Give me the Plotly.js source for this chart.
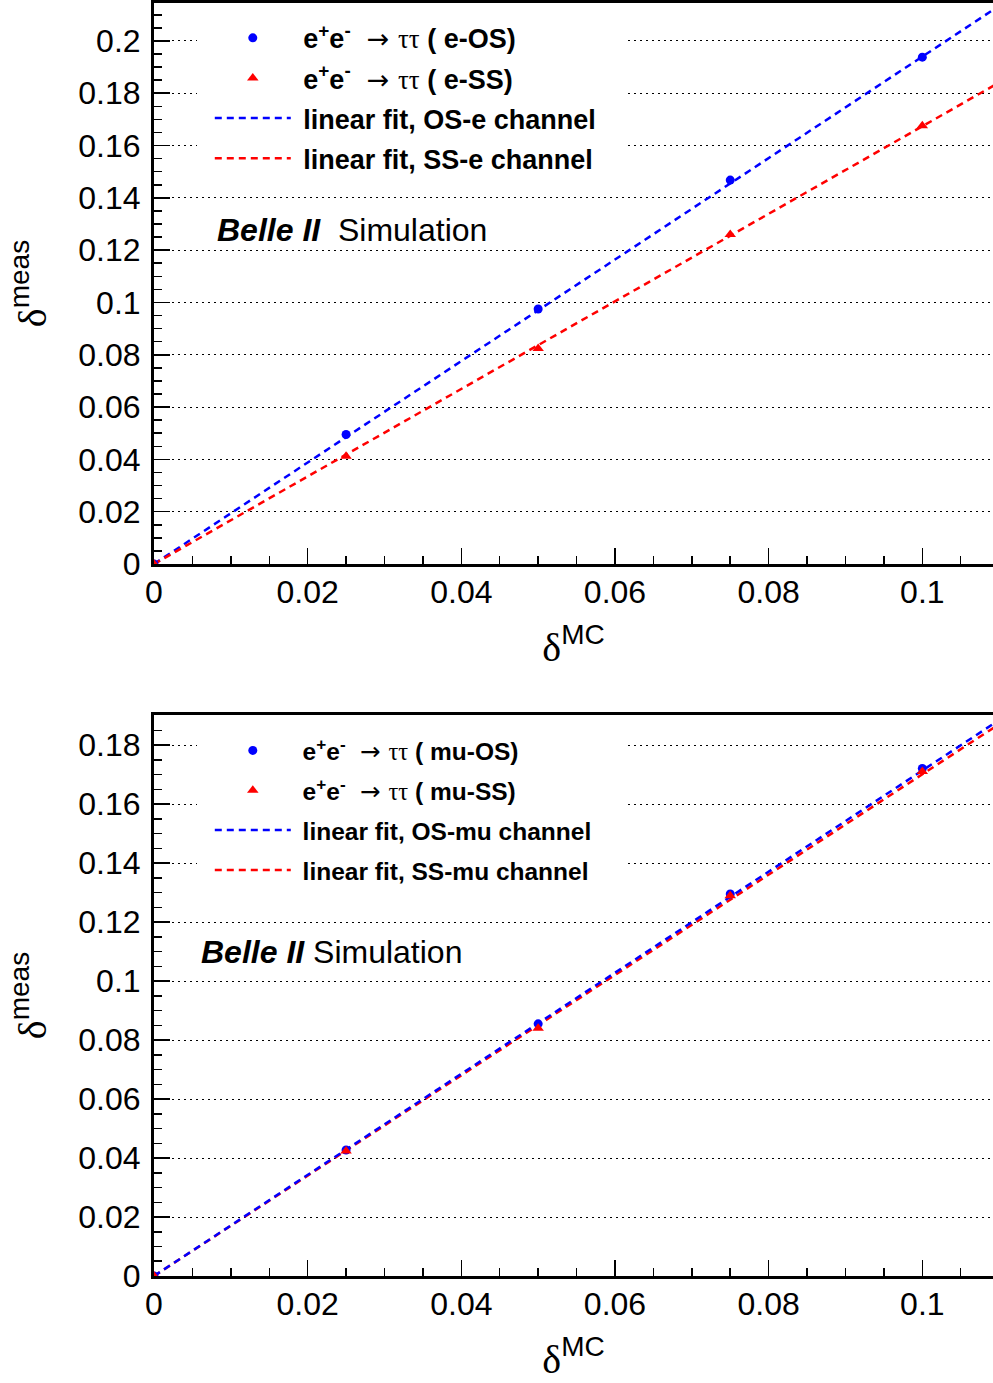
<!DOCTYPE html>
<html>
<head>
<meta charset="utf-8">
<script src="https://cdn.plot.ly/plotly-3.0.1.min.js"></script>
<style>
  html, body { margin: 0; padding: 0; background: #fff; }
  #chart { width: 993px; height: 1383px; }
</style>
</head>
<body>
<div id="chart"></div>
<script>
// ---- data ----
const deltaMC = [0, 0.025, 0.05, 0.075, 0.1];

// top panel: electron channel
const eOS = [0, 0.0495, 0.0975, 0.1468, 0.1938];
const eSS = [0, 0.0412, 0.0824, 0.1260, 0.1676];
const fitX = [0, 0.11];
const fitEOS = [0, 0.2134];
const fitESS = [0, 0.1841];

// bottom panel: muon channel
const muOS = [0, 0.0427, 0.0855, 0.1295, 0.1721];
const muSS = [0, 0.0424, 0.0840, 0.1289, 0.1710];
const fitMuOS = [0, 0.1885];
const fitMuSS = [0, 0.1871];

const NB = '\u00A0';
const ARROW = '<span style="font-family:DejaVu Sans;font-weight:normal">' + NB + '→' + NB + '</span>' +
              '<span style="font-family:Liberation Serif;font-weight:normal">ττ</span>';
const TAIL_T = NB + NB + NB;
const TAIL_B = NB + NB + NB + NB;
const namesTop = [
  NB + 'e<sup>+</sup>e<sup>-</sup> ' + ARROW + ' ( e-OS)' + TAIL_T,
  NB + 'e<sup>+</sup>e<sup>-</sup> ' + ARROW + ' ( e-SS)' + TAIL_T,
  NB + 'linear fit, OS-e channel' + TAIL_T,
  NB + 'linear fit, SS-e channel' + TAIL_T
];
const namesBot = [
  NB + 'e<sup>+</sup>e<sup>-</sup> ' + ARROW + ' ( mu-OS)' + TAIL_B,
  NB + 'e<sup>+</sup>e<sup>-</sup> ' + ARROW + ' ( mu-SS)' + TAIL_B,
  NB + 'linear fit, OS-mu channel' + TAIL_B,
  NB + 'linear fit, SS-mu channel' + TAIL_B
];

const BLUE = '#0000ff';
const RED = '#ff0000';
const FONT = 'Liberation Sans, Arial, Helvetica, sans-serif';

function pts(x, y, name, color, symbol, xa, ya, leg, grp, rank) {
  return { x: x, y: y, name: name, type: 'scatter', mode: 'markers',
    marker: { color: color, symbol: symbol, size: symbol === 'circle' ? 9 : 10 },
    xaxis: xa, yaxis: ya, legend: leg, legendgroup: grp, legendrank: rank };
}
function fit(x, y, name, color, xa, ya, leg, grp, rank) {
  return { x: x, y: y, name: name, type: 'scatter', mode: 'lines',
    line: { color: color, width: 2.5, dash: '7px,5px' },
    xaxis: xa, yaxis: ya, legend: leg, legendgroup: grp, legendrank: rank };
}

const traces = [
  fit(fitX, fitEOS, namesTop[2], BLUE, 'x', 'y', 'legend', 'c', 3),
  fit(fitX, fitESS, namesTop[3], RED, 'x', 'y', 'legend', 'd', 4),
  pts(deltaMC, eOS, namesTop[0], BLUE, 'circle', 'x', 'y', 'legend', 'a', 1),
  pts(deltaMC, eSS, namesTop[1], RED, 'triangle-up', 'x', 'y', 'legend', 'b', 2),
  fit(fitX, fitMuSS, namesBot[3], RED, 'x2', 'y2', 'legend2', 'h', 4),
  fit(fitX, fitMuOS, namesBot[2], BLUE, 'x2', 'y2', 'legend2', 'g', 3),
  pts(deltaMC, muOS, namesBot[0], BLUE, 'circle', 'x2', 'y2', 'legend2', 'e', 1),
  pts(deltaMC, muSS, namesBot[1], RED, 'triangle-up', 'x2', 'y2', 'legend2', 'f', 2)
];

function xax(anchor) {
  return {
    anchor: anchor, domain: [0, 1], range: [0, 0.1092],
    dtick: 0.02, tick0: 0, ticks: 'inside', ticklen: 16, tickwidth: 1.5, tickcolor: '#000',
    minor: { dtick: 0.005, ticks: 'inside', ticklen: 8, tickwidth: 1.5, tickcolor: '#000' },
    showline: true, linewidth: 3, linecolor: '#000', mirror: true,
    showgrid: false, zeroline: false,
    tickfont: { family: FONT, size: 32, color: '#000' },
    ticklabelstandoff: -2,
    title: { text: '<span style="font-family:Liberation Serif">δ</span><sup>MC</sup>',
      font: { family: FONT, size: 40, color: '#000' }, standoff: 24 }
  };
}
function yax(anchor, domain, top) {
  return {
    anchor: anchor, domain: domain, range: [0, top],
    dtick: 0.02, tick0: 0, ticks: 'inside', ticklen: 16, tickwidth: 1.5, tickcolor: '#000',
    minor: { dtick: 0.005, ticks: 'inside', ticklen: 8, tickwidth: 1.5, tickcolor: '#000' },
    showline: true, linewidth: 3, linecolor: '#000', mirror: false,
    showgrid: true, gridcolor: '#000', gridwidth: 1, griddash: '2px,4px',
    zeroline: false,
    tickfont: { family: FONT, size: 32, color: '#000' },
    ticklabelstandoff: 4,
    title: { text: '<span style="font-family:Liberation Serif">δ</span><sup>meas</sup>',
      font: { family: FONT, size: 40, color: '#000' }, standoff: 20 }
  };
}

const legendBase = {
  xref: 'paper', yref: 'paper', xanchor: 'left', yanchor: 'top',
  bgcolor: '#ffffff', borderwidth: 0,
  itemwidth: 76, indentation: 13, traceorder: 'grouped',
  itemclick: false, itemdoubleclick: false
};

const layout = {
  width: 993, height: 1383,
  margin: { l: 154, r: 0, t: 3, b: 107 },
  paper_bgcolor: '#fff', plot_bgcolor: '#fff',
  font: { family: FONT, color: '#000' },
  showlegend: true,
  xaxis: xax('y'),
  yaxis: yax('x', [0.5593, 1], 0.2145),
  xaxis2: xax('y2'),
  yaxis2: yax('x2', [0, 0.4407], 0.1902),
  legend: Object.assign({}, legendBase, { x: 0.051, y: 0.9915, tracegroupgap: 2,
    font: { family: FONT, size: 27, color: '#000', weight: 'bold' } }),
  legend2: Object.assign({}, legendBase, { x: 0.051, y: 0.4305, tracegroupgap: 5,
    font: { family: FONT, size: 24.5, color: '#000', weight: 'bold' } }),
  annotations: [
    { xref: 'paper', yref: 'paper', x: 0.0725, y: 0.8217, xanchor: 'left', yanchor: 'middle',
      showarrow: false, text: '<b><i>Belle II</i></b>  Simulation',
      font: { family: FONT, size: 32, color: '#000' } },
    { xref: 'paper', yref: 'paper', x: 0.054, y: 0.2545, xanchor: 'left', yanchor: 'middle',
      showarrow: false, text: '<b><i>Belle II</i></b> Simulation',
      font: { family: FONT, size: 32, color: '#000' } }
  ]
};

Plotly.newPlot('chart', traces, layout, { staticPlot: true, displayModeBar: false });
</script>
</body>
</html>
